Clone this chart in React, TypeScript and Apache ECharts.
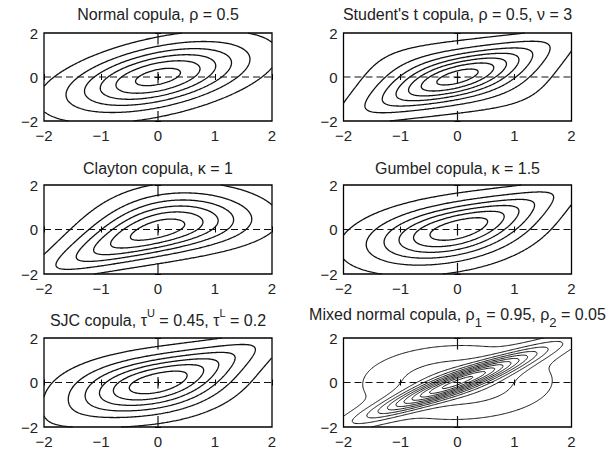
import React, { useEffect, useRef } from "react";
import * as echarts from "echarts";

// ---------------- axis ticks ----------------
const X_TICKS = [-2, -1, 0, 1, 2];
const Y_TICKS = [-2, 0, 2];

// ---------------- iso-density levels used in every panel ----------------
const CONTOUR_LEVELS = [0.02, 0.05, 0.08, 0.11, 0.14, 0.17, 0.2, 0.23, 0.26, 0.29, 0.32];

// ---------------- copula parameters (as given in panel titles) ----------------
const NORMAL_RHO = 0.5;
const T_RHO = 0.5;
const T_NU = 3;
const CLAYTON_KAPPA = 1;
const GUMBEL_KAPPA = 1.5;
const SJC_TAU_U = 0.45;
const SJC_TAU_L = 0.2;
const MIX_RHOS = [0.95, 0.05];
const MIX_WEIGHTS = [0.5, 0.5];

// ---------------- panel titles ----------------
const PANEL_TITLES = [
  "Normal copula, ρ = 0.5",
  "Student's t copula, ρ = 0.5, ν = 3",
  "Clayton copula, κ = 1",
  "Gumbel copula, κ = 1.5",
  "SJC copula, τ{sup|U} = 0.45, τ{sup|L} = 0.2",
  "Mixed normal copula, ρ{sub|1} = 0.95, ρ{sub|2} = 0.05",
];

// ---------------- layout ----------------
const COL_LEFT = [44, 343.5];
const PLOT_W = 228;
const ROW_TOP = [33, 185, 338];
const ROW_H = [88, 89, 89];
const TITLE_Y = [14, 14, 168.5, 168.5, 320.5, 314.5];

// ---------------- math helpers ----------------
function erf(x: number) {
  const s = x < 0 ? -1 : 1;
  const ax = Math.abs(x);
  const t = 1 / (1 + 0.3275911 * ax);
  const y =
    1 -
    ((((1.061405429 * t - 1.453152027) * t + 1.421413741) * t - 0.284496736) * t + 0.254829592) *
      t *
      Math.exp(-ax * ax);
  return s * y;
}
const Phi = (x: number) => 0.5 * (1 + erf(x / Math.SQRT2));
const phi = (x: number) => Math.exp(-0.5 * x * x) / Math.sqrt(2 * Math.PI);

function lgamma(z: number): number {
  const c = [
    0.99999999999980993, 676.5203681218851, -1259.1392167224028, 771.32342877765313,
    -176.61502916214059, 12.507343278686905, -0.13857109526572012, 9.9843695780195716e-6,
    1.5056327351493116e-7,
  ];
  if (z < 0.5) return Math.log(Math.PI / Math.sin(Math.PI * z)) - lgamma(1 - z);
  z -= 1;
  let x = c[0];
  for (let i = 1; i < 9; i++) x += c[i] / (z + i);
  const t = z + 7.5;
  return 0.5 * Math.log(2 * Math.PI) + (z + 0.5) * Math.log(t) - t + Math.log(x);
}
function tpdf(t: number, nu: number) {
  return (
    (Math.exp(lgamma((nu + 1) / 2) - lgamma(nu / 2)) / Math.sqrt(nu * Math.PI)) *
    Math.pow(1 + (t * t) / nu, -(nu + 1) / 2)
  );
}
function tcdf(t: number, nu: number) {
  const a = Math.abs(t);
  const n = 400;
  const h = a / n;
  let s = tpdf(0, nu) + tpdf(a, nu);
  for (let i = 1; i < n; i++) s += (i % 2 ? 4 : 2) * tpdf(i * h, nu);
  const integ = (s * h) / 3;
  return t >= 0 ? 0.5 + integ : 0.5 - integ;
}
function tinv(p: number, nu: number) {
  let lo = -60,
    hi = 60;
  for (let i = 0; i < 60; i++) {
    const m = (lo + hi) / 2;
    if (tcdf(m, nu) < p) lo = m;
    else hi = m;
  }
  return (lo + hi) / 2;
}
function bvn(x: number, y: number, r: number) {
  const d = 1 - r * r;
  return Math.exp(-(x * x - 2 * r * x * y + y * y) / (2 * d)) / (2 * Math.PI * Math.sqrt(d));
}
function jcDensity(u: number, v: number, k: number, g: number) {
  const a = 1 - Math.pow(1 - u, k);
  const b = 1 - Math.pow(1 - v, k);
  const ap = k * Math.pow(1 - u, k - 1);
  const bp = k * Math.pow(1 - v, k - 1);
  const S = Math.pow(a, -g) + Math.pow(b, -g) - 1;
  const Su = -g * Math.pow(a, -g - 1) * ap;
  const Sv = -g * Math.pow(b, -g - 1) * bp;
  const T = 1 - Math.pow(S, -1 / g);
  const Tu = (1 / g) * Math.pow(S, -1 / g - 1) * Su;
  const Tv = (1 / g) * Math.pow(S, -1 / g - 1) * Sv;
  const Tuv = (1 / g) * (-1 / g - 1) * Math.pow(S, -1 / g - 2) * Su * Sv;
  return -(1 / k) * ((1 / k - 1) * Math.pow(T, 1 / k - 2) * Tu * Tv + Math.pow(T, 1 / k - 1) * Tuv);
}

// ---------------- density surfaces on a grid ----------------
const N = 201;
const GX: number[] = [];
for (let i = 0; i < N; i++) GX.push(-2 + (4 * i) / (N - 1));
const GU = GX.map(Phi);
const GPH = GX.map(phi);

type Dens = (i: number, j: number) => number;

function makeDensities(): Dens[] {
  const normal: Dens = (i, j) => bvn(GX[i], GX[j], NORMAL_RHO);

  const q = GU.map((u) => tinv(u, T_NU));
  const c2 =
    Math.exp(lgamma((T_NU + 2) / 2) - lgamma(T_NU / 2)) /
    (T_NU * Math.PI * Math.sqrt(1 - T_RHO * T_RHO));
  const f1 = q.map((t) => tpdf(t, T_NU));
  const student: Dens = (i, j) => {
    const a = q[i],
      b = q[j];
    const f2 =
      c2 *
      Math.pow(1 + (a * a - 2 * T_RHO * a * b + b * b) / (T_NU * (1 - T_RHO * T_RHO)), -(T_NU + 2) / 2);
    return (f2 / (f1[i] * f1[j])) * GPH[i] * GPH[j];
  };

  const th = CLAYTON_KAPPA;
  const clayton: Dens = (i, j) => {
    const u = GU[i],
      v = GU[j];
    const c =
      (1 + th) *
      Math.pow(u * v, -1 - th) *
      Math.pow(Math.pow(u, -th) + Math.pow(v, -th) - 1, -2 - 1 / th);
    return c * GPH[i] * GPH[j];
  };

  const gk = GUMBEL_KAPPA;
  const gumbel: Dens = (i, j) => {
    const u = GU[i],
      v = GU[j];
    const lu = -Math.log(u),
      lv = -Math.log(v);
    const w = Math.pow(lu, gk) + Math.pow(lv, gk);
    const A = Math.pow(w, 1 / gk);
    const C = Math.exp(-A);
    const c = (C / (u * v)) * Math.pow(lu * lv, gk - 1) * Math.pow(w, -2 + 1 / gk) * (A + gk - 1);
    return c * GPH[i] * GPH[j];
  };

  const k1 = 1 / Math.log2(2 - SJC_TAU_U);
  const g1 = -1 / Math.log2(SJC_TAU_L);
  const k2 = 1 / Math.log2(2 - SJC_TAU_L);
  const g2 = -1 / Math.log2(SJC_TAU_U);
  const sjc: Dens = (i, j) => {
    const u = GU[i],
      v = GU[j];
    const c = 0.5 * (jcDensity(u, v, k1, g1) + jcDensity(1 - u, 1 - v, k2, g2));
    return c * GPH[i] * GPH[j];
  };

  const mixed: Dens = (i, j) =>
    MIX_WEIGHTS[0] * bvn(GX[i], GX[j], MIX_RHOS[0]) + MIX_WEIGHTS[1] * bvn(GX[i], GX[j], MIX_RHOS[1]);

  return [normal, student, clayton, gumbel, sjc, mixed];
}

// ---------------- marching squares ----------------
function contours(Z: Float64Array, level: number): number[][][] {
  const adj = new Map<number, number[]>();
  const add = (a: number, b: number) => {
    if (!adj.has(a)) adj.set(a, []);
    if (!adj.has(b)) adj.set(b, []);
    adj.get(a)!.push(b);
    adj.get(b)!.push(a);
  };
  const z = (i: number, j: number) => Z[j * N + i];
  for (let j = 0; j < N - 1; j++) {
    for (let i = 0; i < N - 1; i++) {
      const a = z(i, j),
        b = z(i + 1, j),
        c = z(i + 1, j + 1),
        d = z(i, j + 1);
      const idx = (a > level ? 1 : 0) | (b > level ? 2 : 0) | (c > level ? 4 : 0) | (d > level ? 8 : 0);
      if (idx === 0 || idx === 15) continue;
      const B = (j * N + i) * 2;
      const T = ((j + 1) * N + i) * 2;
      const L = (j * N + i) * 2 + 1;
      const R = (j * N + i + 1) * 2 + 1;
      const center = (a + b + c + d) / 4 > level;
      switch (idx) {
        case 1: case 14: add(L, B); break;
        case 2: case 13: add(B, R); break;
        case 3: case 12: add(L, R); break;
        case 4: case 11: add(R, T); break;
        case 6: case 9: add(B, T); break;
        case 7: case 8: add(L, T); break;
        case 5:
          if (center) { add(B, R); add(T, L); } else { add(L, B); add(R, T); }
          break;
        case 10:
          if (center) { add(L, B); add(R, T); } else { add(B, R); add(T, L); }
          break;
      }
    }
  }
  const pos = (key: number): number[] => {
    const vert = key % 2;
    const cell = (key - vert) / 2;
    const i = cell % N;
    const j = (cell - i) / N;
    const z0 = z(i, j);
    if (vert === 0) {
      const z1 = z(i + 1, j);
      const t = (level - z0) / (z1 - z0);
      return [GX[i] + t * (GX[i + 1] - GX[i]), GX[j]];
    }
    const z1 = z(i, j + 1);
    const t = (level - z0) / (z1 - z0);
    return [GX[i], GX[j] + t * (GX[j + 1] - GX[j])];
  };
  const visited = new Set<number>();
  const walk = (start: number) => {
    const pts = [start];
    visited.add(start);
    let cur = start;
    for (;;) {
      let next = -1;
      for (const n of adj.get(cur)!) if (!visited.has(n)) { next = n; break; }
      if (next < 0) break;
      visited.add(next);
      pts.push(next);
      cur = next;
    }
    return pts;
  };
  const lines: number[][] = [];
  adj.forEach((nb, k) => {
    if (nb.length === 1 && !visited.has(k)) lines.push(walk(k));
  });
  adj.forEach((_nb, k) => {
    if (!visited.has(k)) {
      const p = walk(k);
      p.push(k);
      lines.push(p);
    }
  });
  return lines.map((l) => l.map(pos));
}

const FONT = '"Liberation Sans", Arial, Helvetica, sans-serif';
const TEXT_COLOR = "#222";
const fmt = (v: number) => String(v).replace("-", "\u2212");

function buildOption() {
  const dens = makeDensities();
  const grid: any[] = [];
  const xAxis: any[] = [];
  const yAxis: any[] = [];
  const series: any[] = [];
  const graphic: any[] = [];

  dens.forEach((f, k) => {
    const col = k % 2;
    const row = Math.floor(k / 2);
    grid.push({
      left: COL_LEFT[col],
      top: ROW_TOP[row],
      width: PLOT_W,
      height: ROW_H[row],
      show: true,
      borderColor: "#000",
      borderWidth: 1.3,
      backgroundColor: "transparent",
    });
    const tick = { show: true, inside: true, length: 3, lineStyle: { color: "#000", width: 1 } };
    const label = { show: true, fontSize: 15, fontFamily: FONT, color: TEXT_COLOR, formatter: fmt };
    xAxis.push({
      gridIndex: k, type: "value", position: "bottom", min: X_TICKS[0], max: X_TICKS[X_TICKS.length - 1],
      interval: X_TICKS[1] - X_TICKS[0], axisLine: { show: false }, axisTick: tick,
      splitLine: { show: false }, axisLabel: { ...label, margin: 7 },
    });
    xAxis.push({
      gridIndex: k, type: "value", position: "top", min: X_TICKS[0], max: X_TICKS[X_TICKS.length - 1],
      interval: X_TICKS[1] - X_TICKS[0], axisLine: { show: false }, axisTick: tick,
      splitLine: { show: false }, axisLabel: { show: false },
    });
    yAxis.push({
      gridIndex: k, type: "value", position: "left", min: Y_TICKS[0], max: Y_TICKS[Y_TICKS.length - 1],
      interval: Y_TICKS[1] - Y_TICKS[0], axisLine: { show: false }, axisTick: tick,
      splitLine: { show: false }, axisLabel: { ...label, margin: 6 },
    });
    yAxis.push({
      gridIndex: k, type: "value", position: "right", min: Y_TICKS[0], max: Y_TICKS[Y_TICKS.length - 1],
      interval: Y_TICKS[1] - Y_TICKS[0], axisLine: { show: false }, axisTick: tick,
      splitLine: { show: false }, axisLabel: { show: false },
    });
    const xi = 2 * k;
    const yi = 2 * k;
    // reference lines x = 0, y = 0
    series.push({
      type: "line", xAxisIndex: xi, yAxisIndex: yi, silent: true, symbol: "none",
      data: [[X_TICKS[0], 0], [X_TICKS[X_TICKS.length - 1], 0]],
      lineStyle: { color: "#111", width: 1.2, type: [7, 4] },
    });
    series.push({
      type: "line", xAxisIndex: xi, yAxisIndex: yi, silent: true, symbol: "none",
      data: [[0, Y_TICKS[Y_TICKS.length - 1]], [0, Y_TICKS[0]]],
      lineStyle: { color: "#111", width: 1.2, type: [11.5, 27.5] },
    });
    // density grid
    const Z = new Float64Array(N * N);
    for (let j = 0; j < N; j++) for (let i = 0; i < N; i++) Z[j * N + i] = f(i, j);
    const lw = k === 5 ? 1 : 1.3;
    CONTOUR_LEVELS.forEach((lev) => {
      contours(Z, lev).forEach((line) => {
        if (line.length < 2) return;
        series.push({
          type: "line", xAxisIndex: xi, yAxisIndex: yi, silent: true, symbol: "none",
          showSymbol: false, data: line, lineStyle: { color: "#111", width: lw },
        });
      });
    });
    graphic.push({
      type: "text",
      x: COL_LEFT[col] + PLOT_W / 2,
      y: TITLE_Y[k],
      style: {
        text: PANEL_TITLES[k],
        fill: TEXT_COLOR,
        fontSize: 16,
        fontFamily: FONT,
        align: "center",
        verticalAlign: "middle",
        rich: {
          sup: { fontSize: 11, fontFamily: FONT, fill: TEXT_COLOR, verticalAlign: "top", padding: [0, 0, 15, 0] },
          sub: { fontSize: 13, fontFamily: FONT, fill: TEXT_COLOR, verticalAlign: "bottom", padding: [15, 0, 0, 0] },
        },
      },
    });
  });

  return {
    animation: false,
    backgroundColor: "#fff",
    grid,
    xAxis,
    yAxis,
    series,
    graphic,
  };
}

export default function App() {
  const ref = useRef<HTMLDivElement>(null);
  useEffect(() => {
    if (!ref.current) return;
    const chart = echarts.init(ref.current, undefined, { renderer: "svg" });
    chart.setOption(buildOption() as any);
    return () => chart.dispose();
  }, []);
  return (
    <div
      ref={ref}
      style={{ position: "absolute", left: 0, top: 0, width: 611, height: 469, background: "#fff" }}
    />
  );
}
